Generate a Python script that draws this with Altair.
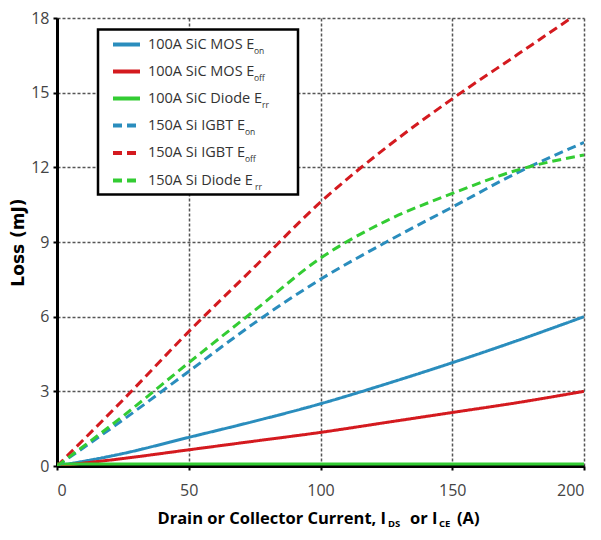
import altair as alt
import pandas as pd

# ---------------- data ----------------
current = [0, 25, 50, 75, 100, 125, 150, 175, 200]

sic_mos_eon = [0, 0.5, 1.15, 1.8, 2.5, 3.3, 4.15, 5.05, 6.0]
sic_mos_eoff = [0, 0.3, 0.65, 1.0, 1.35, 1.75, 2.15, 2.55, 3.0]
sic_diode_err = [0.08, 0.08, 0.08, 0.08, 0.08, 0.08, 0.08, 0.08, 0.08]
si_igbt_eon = [0, 1.85, 3.8, 5.75, 7.5, 9.0, 10.4, 11.8, 13.0]
si_igbt_eoff = [0, 2.65, 5.4, 8.0, 10.6, 12.8, 14.75, 16.55, 18.35]
si_diode_err = [0, 2.0, 4.15, 6.25, 8.35, 9.85, 10.95, 11.9, 12.5]

series_names = ["100A SiC MOS Eon", "100A SiC MOS Eoff", "100A SiC Diode Err",
                "150A Si IGBT Eon", "150A Si IGBT Eoff", "150A Si Diode Err"]
series_values = [sic_mos_eon, sic_mos_eoff, sic_diode_err,
                 si_igbt_eon, si_igbt_eoff, si_diode_err]
label_main = ["100A SiC MOS E", "100A SiC MOS E", "100A SiC Diode E",
              "150A Si IGBT E", "150A Si IGBT E", "150A Si Diode E"]
label_sub = ["on", "off", "rr", "on", "off", "rr"]
series_colors = ["#2a8dbd", "#d41a1f", "#33cc33", "#2a8dbd", "#d41a1f", "#33cc33"]
series_dash = [[1, 0], [1, 0], [1, 0], [9, 5], [9, 5], [9, 5]]
series_width = [3, 3, 5, 4, 4, 4]

x_ticks = [0, 50, 100, 150, 200]
y_ticks = [0, 3, 6, 9, 12, 15, 18]

rows = []
for name, vals in zip(series_names, series_values):
    for c, v in zip(current, vals):
        rows.append({"series": name, "current": c, "loss": v})
df = pd.DataFrame(rows)

FONT = "Open Sans"
W, H = 527, 448

x_enc = alt.X("current:Q", scale=alt.Scale(domain=[0, 200], nice=False),
              axis=alt.Axis(values=x_ticks, title=""))
y_enc = alt.Y("loss:Q", scale=alt.Scale(domain=[0, 18], nice=False),
              axis=alt.Axis(values=y_ticks, title="Loss (mJ)"))

lines = alt.Chart(df).mark_line(interpolate="monotone", clip=True).encode(
    x=x_enc,
    y=y_enc,
    color=alt.Color("series:N", scale=alt.Scale(domain=series_names, range=series_colors), legend=None),
    strokeDash=alt.StrokeDash("series:N", scale=alt.Scale(domain=series_names, range=series_dash), legend=None),
    strokeWidth=alt.StrokeWidth("series:N", scale=alt.Scale(domain=series_names, range=series_width), legend=None),
)

one = pd.DataFrame({"a": [0]})
layers = [lines]

# legend box
layers.append(alt.Chart(one).mark_rect(fill="white", stroke="black", strokeWidth=2.5).encode(
    x=alt.value(41), x2=alt.value(241), y=alt.value(11.5), y2=alt.value(176.5)))

row_y = [26.5, 53.5, 80.5, 107.5, 135, 162.5]
sub_x = [197, 197, 205, 188, 188, 198]
for i in range(6):
    layers.append(alt.Chart(one).mark_rule(strokeWidth=4, strokeDash=series_dash[i],
                                           color=series_colors[i]).encode(
        x=alt.value(56), x2=alt.value(83), y=alt.value(row_y[i])))
    layers.append(alt.Chart(one).mark_text(align="left", baseline="middle", font=FONT,
                                           fontSize=14.5, color="#333").encode(
        x=alt.value(91), y=alt.value(row_y[i]), text=alt.value(label_main[i])))
    layers.append(alt.Chart(one).mark_text(align="left", baseline="middle", font=FONT,
                                           fontSize=8.5, color="#333").encode(
        x=alt.value(sub_x[i]), y=alt.value(row_y[i] + 6), text=alt.value(label_sub[i])))

# x-axis title with subscripts
title_y = 501
title_parts = [
    ("Drain or Collector Current, I", 329, 16.5, 0, "right"),
    ("DS", 331, 9.5, 5, "left"),
    ("or I", 353, 16.5, 0, "left"),
    ("CE", 382, 9.5, 5, "left"),
    ("(A)", 400, 16.5, 0, "left"),
]
for txt, px, fs, dy, al in title_parts:
    layers.append(alt.Chart(one).mark_text(align=al, baseline="middle", font=FONT,
                                           fontSize=fs, fontWeight="bold", color="black").encode(
        x=alt.value(px), y=alt.value(title_y + dy), text=alt.value(txt)))

chart = alt.layer(*layers).properties(
    width=W, height=H,
    autosize=alt.AutoSizeParams(type="none"),
    padding={"left": 49, "top": 10, "right": 9, "bottom": 66},
).configure_view(strokeWidth=0).configure_axis(
    labelFont=FONT, labelFontSize=16, labelColor="#444",
    titleFont="DejaVu Sans", titleFontSize=17, titleFontWeight="bold", titleColor="black",
    domainColor="black", domainWidth=3,
    tickColor="black", tickWidth=2, tickSize=4,
    gridColor="#555", gridDash=[3, 2], gridWidth=1.5, gridOpacity=1,
).configure_axisX(labelPadding=12).configure_axisY(labelPadding=4, titlePadding=3)

chart.save("out.html", embed_options={"renderer": "svg", "actions": False})
